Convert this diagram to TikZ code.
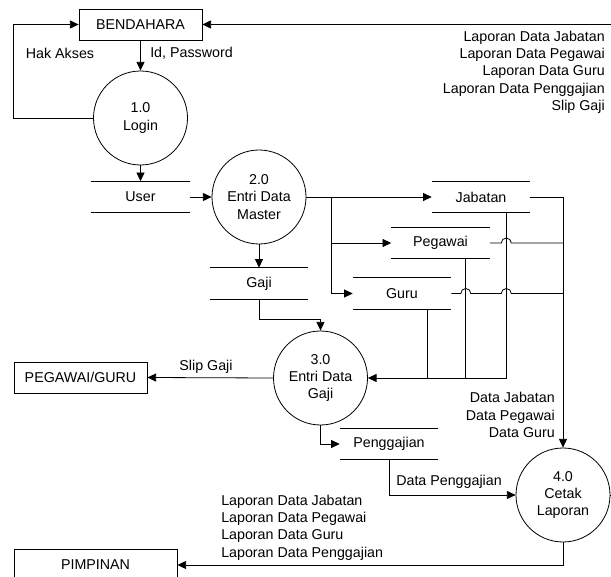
\documentclass[tikz,border=0pt]{standalone}
\usepackage{fontspec}
\setmainfont{Liberation Sans}
\usetikzlibrary{
    arrows.meta,
    positioning,
    calc
}
\tikzset{
    entity/.style={
        draw,
        line width=0.6pt,
        minimum height=23.25pt,
        inner sep=0pt,
        align=center
    }
}
\tikzset{
    process/.style={
        draw,
        circle,
        line width=0.6pt,
        minimum size=70.5pt,
        inner sep=0pt,
        align=center
    }
}
\tikzset{
    store/.style={
        minimum width=73.5pt,
        minimum height=23.25pt,
        inner sep=0pt
    }
}
\tikzset{
    link/.style={
        draw=black,
        line width=0.6pt
    }
}
\tikzset{
    flow/.style={
        draw=black,
        line width=0.6pt,
        ->
    }
}
\tikzset{
    flowlabel/.style={
        inner sep=0pt
    }
}

\begin{document}
\begin{tikzpicture}[
    x=0.75pt, y=-0.75pt,
    >={Triangle[length=6.5pt,width=6pt]},
    font=\fontsize{10.7}{13}\selectfont
]

\useasboundingbox (0,0) rectangle (611,577);
\clip (0,0) rectangle (611,577);

% ------------------------------------------------------------
% External entities
% ------------------------------------------------------------

\node[entity, minimum width=92.25pt] (bend) at (140.5,24.5) {BENDAHARA};
\node[entity, minimum width=99.75pt] (pg) at (80.5,377.5) {PEGAWAI/GURU};
\node[entity, minimum width=122.25pt, minimum height=24pt] (pim) at (95.5,565) {PIMPINAN};

% ------------------------------------------------------------
% Processes
% ------------------------------------------------------------

\node[process] (p1) at (140.5,118) {1.0\\Login};
\node[process] (p2) at (259,197) {2.0\\Entri Data\\Master};
\node[process] (p3) at (320.5,378) {3.0\\Entri Data\\Gaji};
\node[process] (p4) at (563,495) {4.0\\Cetak\\Laporan};

% ------------------------------------------------------------
% Data stores
% ------------------------------------------------------------

\node[store] (user) at (140.5,197) {User};
\node[store] (jab) at (481,197) {Jabatan};
\node[store] (peg) at (440.5,243) {Pegawai};
\node[store] (guru) at (402,293.5) {Guru};
\node[store] (gaji) at (259,283.5) {Gaji};
\node[store] (pengg) at (389,444) {Penggajian};

\foreach \s in {user,jab,peg,guru,gaji,pengg} {
    \draw[link] (\s.north west) -- (\s.north east) (\s.south west) -- (\s.south east);
}

% ------------------------------------------------------------
% Login
% ------------------------------------------------------------

\draw[flow] (bend.south) -- (p1.north);
\node[flowlabel, anchor=west] (lid) at (150,53) {Id, Password};
\draw[flow] (p1.west) -- ++(-80,0) |- (bend.west);
\node[flowlabel] (lhak) at (60,53) {Hak Akses};
\draw[flow] (p1.south) -- (user.north);
\draw[flow] (user.east) -- (p2.west);

% ------------------------------------------------------------
% Master data
% ------------------------------------------------------------

\coordinate (split) at (331,197);
\draw[flow] (p2.east) -- (jab.west);
\draw[flow] (split) |- (peg.west);
\draw[flow] (split) |- (guru.west);
\draw[flow] (p2.south) -- (gaji.north);
\draw[flow] (gaji.south) -- ++(0,20) -| (p3.north);

\coordinate (jabdrop) at ($(jab.south east)+(-24,0)$);
\coordinate (pegdrop) at ($(peg.south east)+(-24,0)$);
\coordinate (gurudrop) at ($(guru.south east)+(-24,0)$);
\draw[flow] (jabdrop) |- (p3.east);
\draw[link] (pegdrop) -- (pegdrop |- p3.east);
\draw[link] (gurudrop) -- (gurudrop |- p3.east);

% ------------------------------------------------------------
% Payroll
% ------------------------------------------------------------

\draw[flow] (p3.west) -- (pg.east);
\node[flowlabel] (lslip) at (206,367) {Slip Gaji};
\draw[flow] (p3.south) |- (pengg.west);
\draw[flow] (pengg.south) |- (p4.west);
\node[flowlabel, anchor=west] (ldpg) at (396,482) {Data Penggajian};

% ------------------------------------------------------------
% Reports
% ------------------------------------------------------------

\draw[flow] (jab.east) -| (p4.north);
\draw[link] (peg.east) -- ($(jabdrop |- peg.east)+(-5,0)$) arc (180:360:5) -- (p4.north |- peg.east);
\draw[link] (guru.east) -- ($(pegdrop |- guru.east)+(-5,0)$) arc (180:360:5)
    -- ($(jabdrop |- guru.east)+(-5,0)$) arc (180:360:5) -- (p4.north |- guru.east);
\node[flowlabel, align=right, anchor=east] (ldata) at (555,415)
    {Data Jabatan\\Data Pegawai\\Data Guru};

\draw[flow] (p4.south) |- (pim.east);
\node[flowlabel, align=left, anchor=west] (lpim) at (221,527.5)
    {Laporan Data Jabatan\\Laporan Data Pegawai\\Laporan Data Guru\\Laporan Data Penggajian};

\draw[flow] (p4.east) -- ++(6,0) |- (bend.east);
\node[flowlabel, align=right, anchor=east] (lbend) at (605,72)
    {Laporan Data Jabatan\\Laporan Data Pegawai\\Laporan Data Guru\\Laporan Data Penggajian\\Slip Gaji};

\end{tikzpicture}
\end{document}
